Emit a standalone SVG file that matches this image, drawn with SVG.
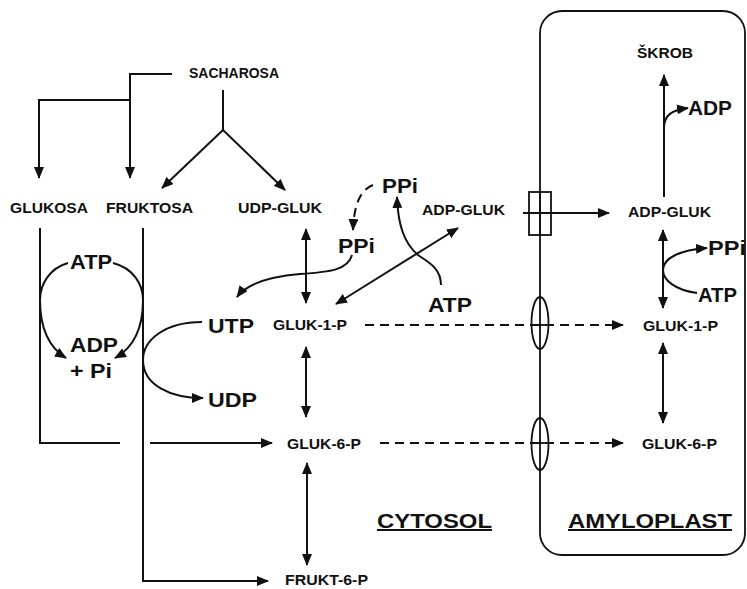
<svg xmlns="http://www.w3.org/2000/svg" width="747" height="589" viewBox="0 0 747 589">
<style>
text{font-family:"Liberation Sans",Arial,sans-serif;font-weight:bold;fill:#111}
.s{font-size:15px}
.l{font-size:20px}
.u{text-decoration:underline}
.c{fill:none;stroke:#111;stroke-width:2}
.d{stroke-dasharray:9 6}
.a{marker-end:url(#ah)}
.b{marker-start:url(#ah);marker-end:url(#ah)}
.m{fill:none;stroke:#111;stroke-width:1.8}
</style>
<defs>
<marker id="ah" markerUnits="userSpaceOnUse" markerWidth="12" markerHeight="10" refX="11" refY="5" orient="auto-start-reverse">
<path d="M0,0 L12,5 L0,10 z" fill="#111"/>
</marker>
</defs>
<rect width="747" height="589" fill="#fff"/>
<g id="amyloplast-membrane">
<rect class="m" x="540" y="11" width="205" height="544" rx="22"/>
<rect class="m" x="529" y="192" width="22" height="43" fill="#fff"/>
<line class="m" x1="540" y1="192" x2="540" y2="235"/>
<ellipse class="m" cx="540" cy="323" rx="8.5" ry="26"/>
<ellipse class="m" cx="540" cy="444" rx="8.5" ry="26"/>
<line class="m" x1="531" y1="325" x2="549" y2="325"/>
<line class="m" x1="531" y1="443" x2="549" y2="443"/>
</g>
<g id="connectors">
<path class="c a" d="M172,74 H130 V178"/>
<path class="c a" d="M130,100 H39 V178"/>
<path class="c" d="M223,90 V130"/>
<path class="c a" d="M223,130 L162,188"/>
<path class="c a" d="M223,130 L285,190"/>
<path class="c" d="M40,228 V443 H120"/>
<path class="c a" d="M143,228 V581 H268"/>
<path class="c a" d="M150,443 H272"/>
<path class="c a" d="M68,263 C50,268 40,284 40,300 C40,330 50,348 66,358"/>
<path class="c a" d="M113,263 C133,268 143,284 143,300 C143,330 133,348 115,358"/>
<path class="c a" d="M202,322 C165,322 143,340 143,360 C143,385 170,398 203,398"/>
<path class="c a" d="M352,255 C348,270 330,272 300,274 C265,277 246,285 237,297"/>
<path class="c b" d="M306,229 V303"/>
<path class="c b" d="M306,347 V417"/>
<path class="c b" d="M307,463 V565"/>
<path class="c d a" d="M373,185 C360,190 354,205 353,230"/>
<path class="c a" d="M441,285 C441,268 428,262 418,255 C404,243 398,225 397,197"/>
<path class="c b" d="M458,228 L336,304"/>
<path class="c a" d="M523,213 H609"/>
<path class="c d a" d="M365,325 H623"/>
<path class="c d a" d="M380,443 H623"/>
<path class="c a" d="M664,197 V75"/>
<path class="c a" d="M664,128 C664,115 672,110 688,108"/>
<path class="c b" d="M663,230 V308"/>
<path class="c b" d="M663,343 V423"/>
<path class="c a" d="M697,293 C675,290 663,280 663,270 C663,258 680,250 707,248"/>
</g>
<g id="n-sacharosa"><text class="s" x="189" y="78" textLength="90" lengthAdjust="spacingAndGlyphs">SACHAROSA</text></g>
<g id="n-glukosa"><text class="s" x="10" y="213" textLength="78" lengthAdjust="spacingAndGlyphs">GLUKOSA</text></g>
<g id="n-fruktosa"><text class="s" x="106" y="213" textLength="87" lengthAdjust="spacingAndGlyphs">FRUKTOSA</text></g>
<g id="n-udp-gluk"><text class="s" x="238" y="213" textLength="84" lengthAdjust="spacingAndGlyphs">UDP-GLUK</text></g>
<g id="n-adp-gluk-c"><text class="s" x="422" y="215" textLength="83" lengthAdjust="spacingAndGlyphs">ADP-GLUK</text></g>
<g id="n-adp-gluk-a"><text class="s" x="628" y="217" textLength="83" lengthAdjust="spacingAndGlyphs">ADP-GLUK</text></g>
<g id="n-skrob"><text class="s" x="637" y="58" textLength="56" lengthAdjust="spacingAndGlyphs">ŠKROB</text></g>
<g id="n-gluk1p-c"><text class="s" x="273" y="330" textLength="74" lengthAdjust="spacingAndGlyphs">GLUK-1-P</text></g>
<g id="n-gluk6p-c"><text class="s" x="287" y="449" textLength="74" lengthAdjust="spacingAndGlyphs">GLUK-6-P</text></g>
<g id="n-frukt6p"><text class="s" x="285" y="585" textLength="83" lengthAdjust="spacingAndGlyphs">FRUKT-6-P</text></g>
<g id="n-gluk1p-a"><text class="s" x="643" y="331" textLength="75" lengthAdjust="spacingAndGlyphs">GLUK-1-P</text></g>
<g id="n-gluk6p-a"><text class="s" x="642" y="449" textLength="75" lengthAdjust="spacingAndGlyphs">GLUK-6-P</text></g>
<g id="n-atp-l"><text class="l" x="70" y="269" textLength="42" lengthAdjust="spacingAndGlyphs">ATP</text></g>
<g id="n-adp-l"><text class="l" x="70" y="352" textLength="48" lengthAdjust="spacingAndGlyphs">ADP</text><text class="l" x="70" y="378" textLength="42" lengthAdjust="spacingAndGlyphs">+ Pi</text></g>
<g id="n-utp"><text class="l" x="208" y="333" textLength="46" lengthAdjust="spacingAndGlyphs">UTP</text></g>
<g id="n-udp"><text class="l" x="208" y="407" textLength="49" lengthAdjust="spacingAndGlyphs">UDP</text></g>
<g id="n-ppi-1"><text class="l" x="382" y="193" textLength="36" lengthAdjust="spacingAndGlyphs">PPi</text></g>
<g id="n-ppi-2"><text class="l" x="338" y="253" textLength="37" lengthAdjust="spacingAndGlyphs">PPi</text></g>
<g id="n-atp-m"><text class="l" x="428" y="312" textLength="44" lengthAdjust="spacingAndGlyphs">ATP</text></g>
<g id="n-adp-a"><text class="l" x="688" y="115" textLength="44" lengthAdjust="spacingAndGlyphs">ADP</text></g>
<g id="n-ppi-a"><text class="l" x="708" y="255" textLength="38" lengthAdjust="spacingAndGlyphs">PPi</text></g>
<g id="n-atp-a"><text class="l" x="698" y="302" textLength="39" lengthAdjust="spacingAndGlyphs">ATP</text></g>
<g id="n-cytosol"><text class="l u" x="377" y="528" textLength="115" lengthAdjust="spacingAndGlyphs">CYTOSOL</text></g>
<g id="n-amyloplast"><text class="l u" x="568" y="528" textLength="164" lengthAdjust="spacingAndGlyphs">AMYLOPLAST</text></g>
</svg>
